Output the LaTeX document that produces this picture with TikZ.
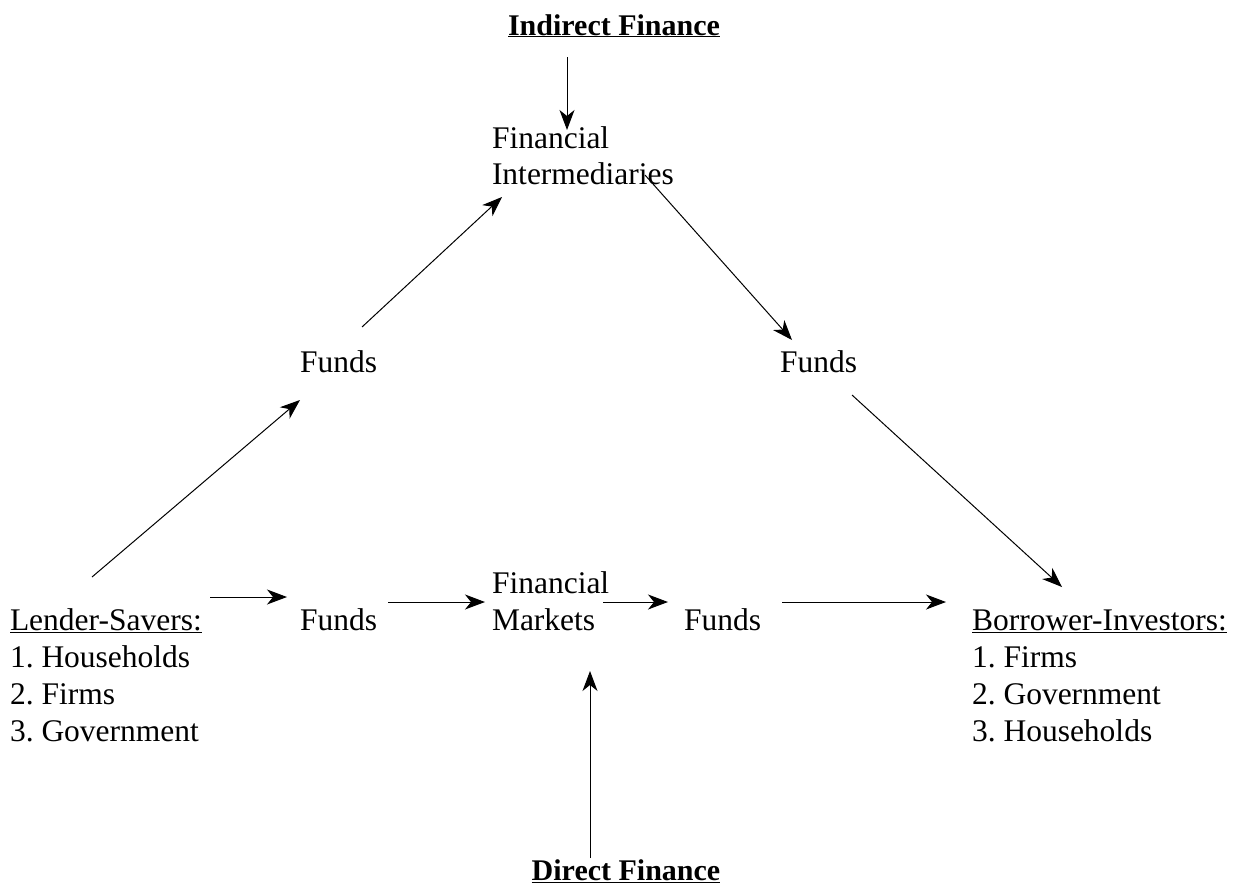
\documentclass[tikz,border=0pt]{standalone}
\usepackage{fontspec}
\setmainfont{Liberation Serif}
\usetikzlibrary{arrows.meta}
\tikzset{
  lbl/.style={inner sep=0pt, outer sep=0pt, anchor=base west, font=\fontsize{31.5}{37}\selectfont\frenchspacing, align=left},
  ttl/.style={inner sep=0pt, outer sep=0pt, anchor=base, font=\fontsize{30}{36}\selectfont\bfseries},
  arr/.style={line width=1pt, -{Stealth[length=20pt,width=15pt,inset=6pt]}}
}
\begin{document}
\begin{tikzpicture}[x=1pt,y=-1pt]
\useasboundingbox (0,0) rectangle (1238,894);
% titles
\node[ttl] (indirect) at (614,35) {\underline{Indirect Finance}};
\node[ttl] (direct) at (626,880) {\underline{Direct Finance}};
% top
\node[lbl] (fi1) at (492,148) {Financial};
\node[lbl] (fi2) at (492,184) {Intermediaries};
\node[lbl] (fundsUL) at (300,372) {Funds};
\node[lbl] (fundsUR) at (780,372) {Funds};
% bottom row
\node[lbl] (ls) at (10,630) {\underline{Lender-Savers:}};
\node[lbl] (ls1) at (10,667) {1. Households};
\node[lbl] (ls2) at (10,704) {2. Firms};
\node[lbl] (ls3) at (10,741) {3. Government};
\node[lbl] (fundsL) at (300,630) {Funds};
\node[lbl] (fm1) at (492,593) {Financial};
\node[lbl] (fm2) at (492,630) {Markets};
\node[lbl] (fundsR) at (684,630) {Funds};
\node[lbl] (bi) at (972,630) {\underline{Borrower-Investors:}};
\node[lbl] (bi1) at (972,667) {1. Firms};
\node[lbl] (bi2) at (972,704) {2. Government};
\node[lbl] (bi3) at (972,741) {3. Households};
% arrow end points
\coordinate (a1s) at (567,57);   \coordinate (a1e) at (567,130);
\coordinate (a2s) at (362,327);  \coordinate (a2e) at (502,197);
\coordinate (a3s) at (645,175);  \coordinate (a3e) at (792,340);
\coordinate (a4s) at (92,577);   \coordinate (a4e) at (300,400);
\coordinate (a5s) at (852,395);  \coordinate (a5e) at (1062,587);
\coordinate (b1s) at (210,597);  \coordinate (b1e) at (287,597);
\coordinate (b2s) at (388,602);  \coordinate (b2e) at (485,602);
\coordinate (b3s) at (603,602);  \coordinate (b3e) at (668,602);
\coordinate (b4s) at (782,602);  \coordinate (b4e) at (946,602);
\coordinate (c1s) at (590,858);  \coordinate (c1e) at (590,671);
% arrows
\draw[arr] (a1s) -- (a1e);
\draw[arr] (a2s) -- (a2e);
\draw[arr] (a3s) -- (a3e);
\draw[arr] (a4s) -- (a4e);
\draw[arr] (a5s) -- (a5e);
\draw[arr] (b1s) -- (b1e);
\draw[arr] (b2s) -- (b2e);
\draw[arr] (b3s) -- (b3e);
\draw[arr] (b4s) -- (b4e);
\draw[arr] (c1s) -- (c1e);
\end{tikzpicture}
\end{document}
